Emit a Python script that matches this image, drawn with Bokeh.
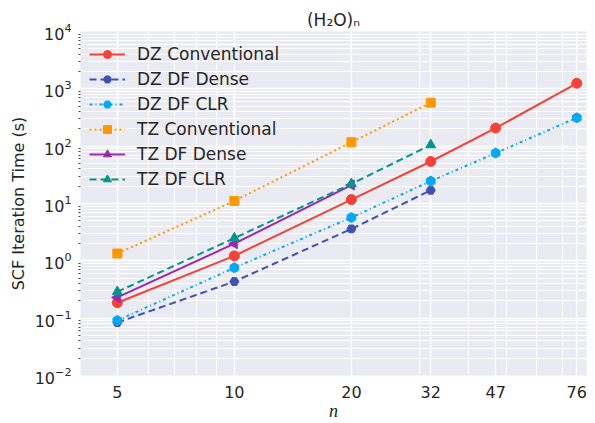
from bokeh.plotting import figure
from bokeh.models import FixedTicker, Range1d, Legend, LogTickFormatter
from bokeh.embed import file_html
from bokeh.resources import INLINE

# ---- data ----
n_ticks = [5, 10, 20, 32, 47, 76]
x_minor = [6, 7, 8, 9, 30, 40, 50, 60, 70]
y_ticks = [1e-2, 1e-1, 1e0, 1e1, 1e2, 1e3, 1e4]

dz_conv_n = [5, 10, 20, 32, 47, 76]
dz_conv_t = [0.186, 1.22, 11.7, 54, 207, 1250]

dz_dense_n = [5, 10, 20, 32]
dz_dense_t = [0.084, 0.435, 3.6, 17]

dz_clr_n = [5, 10, 20, 32, 47, 76]
dz_clr_t = [0.091, 0.757, 5.7, 24.6, 75.7, 312]

tz_conv_n = [5, 10, 20, 32]
tz_conv_t = [1.34, 11.1, 117, 574]

tz_dense_n = [5, 10, 20]
tz_dense_t = [0.23, 1.99, 21]

tz_clr_n = [5, 10, 20, 32]
tz_clr_t = [0.288, 2.49, 22, 105]

FONT = "DejaVu Sans"
TXT = "#262626"

p = figure(width=595, height=423, x_axis_type="log", y_axis_type="log",
           x_range=Range1d(4.02, 80.5), y_range=Range1d(1e-2, 1e4),
           output_backend="svg", toolbar_location=None,
           min_border_left=80, min_border_right=9, min_border_top=31,
           min_border_bottom=44, title="(H₂O)ₙ")

p.background_fill_color = "#EAEAF2"
p.border_fill_color = "white"
p.outline_line_color = None

p.title.align = "center"
p.title.text_font = FONT
p.title.text_font_size = "17px"
p.title.text_font_style = "normal"
p.title.text_color = TXT
p.title.standoff = 4

# grids
y_minor = [k * 10.0 ** d for d in range(-2, 4) for k in range(2, 10)]
p.xaxis.ticker = FixedTicker(ticks=n_ticks, minor_ticks=x_minor)
p.yaxis.ticker = FixedTicker(ticks=y_ticks, minor_ticks=y_minor)
p.xaxis.major_label_overrides = {t: str(t) for t in n_ticks}
p.yaxis.formatter = LogTickFormatter()

for g in (p.xgrid, p.ygrid):
    g.grid_line_color = "white"
    g.grid_line_width = 1.4
    g.minor_grid_line_color = "white"
    g.minor_grid_line_width = 1.0

for ax in (p.xaxis, p.yaxis):
    ax.axis_line_color = None
    ax.major_tick_line_color = None
    ax.major_label_text_font = FONT
    ax.major_label_text_font_size = "16px"
    ax.major_label_text_color = TXT
    ax.axis_label_text_color = TXT

p.xaxis.minor_tick_line_color = None
p.xaxis.major_tick_out = 0
p.xaxis.major_tick_in = 0
p.yaxis.major_tick_out = 0
p.yaxis.major_tick_in = 0
p.yaxis.minor_tick_line_color = "#444444"
p.yaxis.minor_tick_in = 0
p.yaxis.minor_tick_out = 2
p.xaxis.major_label_standoff = 6
p.yaxis.major_label_standoff = 7

p.xaxis.axis_label = "n"
p.xaxis.axis_label_text_font = "Liberation Serif"
p.xaxis.axis_label_text_font_style = "italic"
p.xaxis.axis_label_text_font_size = "18px"
p.xaxis.axis_label_standoff = 0

p.yaxis.axis_label = "SCF Iteration Time (s)"
p.yaxis.axis_label_text_font = FONT
p.yaxis.axis_label_text_font_style = "normal"
p.yaxis.axis_label_text_font_size = "16px"
p.yaxis.axis_label_standoff = 4

series = [
    ("DZ Conventional", dz_conv_n, dz_conv_t, "#F44336", "solid", "circle", 0, 10),
    ("DZ DF Dense", dz_dense_n, dz_dense_t, "#3F51B5", "7 4", "hex", 0, 9),
    ("DZ DF CLR", dz_clr_n, dz_clr_t, "#03A9F4", "3 3 1 3", "hex", 90, 10),
    ("TZ Conventional", tz_conv_n, tz_conv_t, "#FF9800", "2 3", "square", 0, 9),
    ("TZ DF Dense", tz_dense_n, tz_dense_t, "#9C27B0", "solid", "triangle", 90, 10),
    ("TZ DF CLR", tz_clr_n, tz_clr_t, "#009688", "7 4", "triangle", 0, 10),
]

items = []
for label, xs, ys, color, dash, marker, ang, size in series:
    r1 = p.line(xs, ys, line_color=color, line_width=2, line_dash=dash)
    r2 = p.scatter(x=xs, y=ys, marker=marker, size=size,
                   angle=ang, angle_units="deg",
                   fill_color=color, line_color=color)
    items.append((label, [r1, r2]))

legend = Legend(items=items, location=(9, 186))
legend.background_fill_alpha = 0
legend.border_line_color = None
legend.label_text_font = FONT
legend.label_text_font_size = "17px"
legend.label_text_color = TXT
legend.glyph_width = 36
legend.glyph_height = 20
legend.label_height = 20
legend.spacing = 5
legend.margin = 0
legend.padding = 5
legend.label_standoff = 12
p.add_layout(legend)

open("out.html", "w").write(file_html(p, INLINE))
